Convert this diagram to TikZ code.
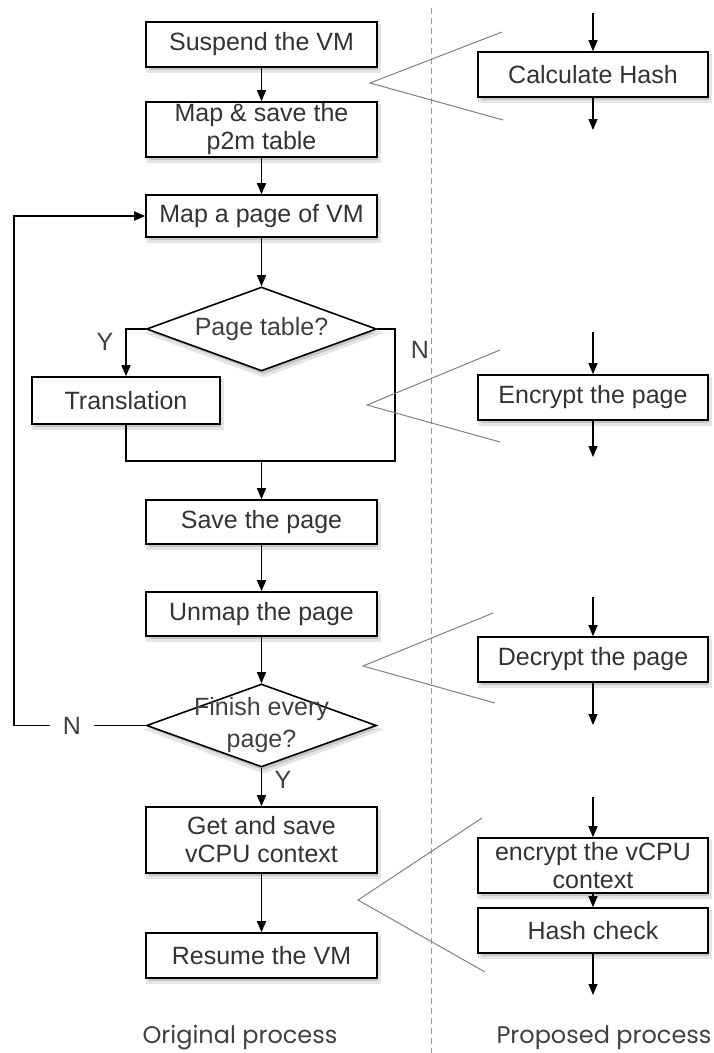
\documentclass[tikz,border=0pt]{standalone}
\usepackage{fontspec}
\setmainfont{Liberation Sans}
\newfontfamily\captionfont{Poppins}
\usetikzlibrary{arrows.meta}
\usetikzlibrary{shapes.geometric}
\usetikzlibrary{backgrounds}
\tikzset{Step Box/.style = {draw, line width = 1.6pt, fill = white, text = black!80,
    minimum width = 231pt, minimum height = 45pt, inner sep = 1pt, align = center,
    font = \fontsize{25}{28}\selectfont}}
\tikzset{Decision/.style = {draw, diamond, aspect = 2.74, line width = 1.6pt, fill = white,
    minimum width = 230pt, minimum height = 84pt, inner sep = 0pt}}
\tikzset{Box Shadow/.style = {fill = black!22, draw = black!10, line width = 3pt}}
\tikzset{Flow Arrow/.style = {line width = 1.5pt, -{Triangle[length = 11pt, width = 9pt]}}}
\tikzset{Stub Arrow/.style = {line width = 1.1pt, -{Triangle[length = 11pt, width = 9pt]}}}
\tikzset{Wedge Line/.style = {line width = 1pt, gray}}
\tikzset{Flag/.style = {text = black!75, font = \fontsize{25}{28}\selectfont}}

\begin{document}
\begin{tikzpicture}[x = 1pt, y = -1pt]
  \useasboundingbox (0, 0) rectangle (713, 1053);

  \draw[gray!80, line width = 1pt, dash pattern = on 6pt off 4pt] (431, 8) -- (431, 1053);

  \node[Step Box] (suspend) at (261.5, 44.5) {Suspend the VM};
  \node[Step Box, minimum height = 55pt] (mapsave) at (261.5, 129.5) {Map \& save the\\p2m table};
  \node[Step Box, minimum height = 42pt] (mappage) at (261.5, 216) {Map a page of VM};
  \node[Decision, label = {[Flag]center:Page table?}]
    (pagetbl) at (261.5, 329) {};
  \node[Step Box, minimum width = 188pt, minimum height = 47pt] (trans) at (126, 400.5) {Translation};
  \node[Step Box, minimum height = 44pt] (savepg) at (261.5, 522) {Save the page};
  \node[Step Box, minimum height = 44pt] (unmap) at (261.5, 614) {Unmap the page};
  \node[Decision, minimum height = 83pt,
    label = {[Flag, align = center, font = \fontsize{25}{32}\selectfont]center:Finish every\\page?}]
    (finish) at (261.5, 725.5) {};
  \node[Step Box, minimum height = 66pt] (getsave) at (261.5, 840) {Get and save\\vCPU context};
  \node[Step Box] (resume) at (261.5, 955.5) {Resume the VM};

  \node[Step Box, minimum width = 230pt] (hash) at (593, 74.5) {Calculate Hash};
  \node[Step Box, minimum width = 230pt] (encpg) at (593, 397.5) {Encrypt the page};
  \node[Step Box, minimum width = 230pt] (decpg) at (593, 659.5) {Decrypt the page};
  \node[Step Box, minimum width = 230pt, minimum height = 55pt] (encvcpu) at (593, 865.5)
    {encrypt the vCPU\\context};
  \node[Step Box, minimum width = 230pt] (hashchk) at (593, 930.5) {Hash check};

  \begin{scope}[on background layer]
    \foreach \n in {suspend, mapsave, mappage, trans, savepg, unmap, getsave, resume,
      hash, encpg, decpg, encvcpu, hashchk}
      \filldraw[Box Shadow] ([shift = {(2, 4)}]\n.south west) rectangle ([shift = {(2, 4)}]\n.north east);
    \foreach \n in {pagetbl, finish}
      \filldraw[Box Shadow] ([shift = {(2, 4)}]\n.north) -- ([shift = {(2, 4)}]\n.east) --
      ([shift = {(2, 4)}]\n.south) -- ([shift = {(2, 4)}]\n.west) -- cycle;
  \end{scope}

  \coordinate (mergeR) at (395, 461);
  \coordinate (merge) at (261.5, 461);
  \coordinate (loop) at (14, 725.5);

  \draw[Flow Arrow] (suspend) -- (mapsave);
  \draw[Flow Arrow] (mapsave) -- (mappage);
  \draw[Flow Arrow] (mappage) -- (pagetbl.north);
  \draw[Flow Arrow] (pagetbl.west) -| (trans.north);
  \draw[line width = 1.5pt] (trans.south) |- (mergeR) |- (pagetbl.east);
  \draw[Flow Arrow] (merge) -- (savepg);
  \draw[Flow Arrow] (savepg) -- (unmap);
  \draw[Flow Arrow] (unmap) -- (finish.north);
  \draw[Flow Arrow] (finish.west) -- node[Flag, pos = .56, fill = white, inner xsep = 13pt] (nofin) {N}
    (loop) |- (mappage.west);
  \draw[Flow Arrow] (finish.south) -- (getsave);
  \draw[Flow Arrow] (getsave) -- (resume);

  \node[Flag] (yespt) at (105, 342) {Y};
  \node[Flag] (nopt) at (420, 350) {N};
  \node[Flag] (yesfin) at (283, 780) {Y};

  \coordinate (hashIn) at (593, 13);
  \coordinate (hashOut) at (593, 130);
  \coordinate (encIn) at (593, 332);
  \coordinate (encOut) at (593, 457);
  \coordinate (decIn) at (593, 597);
  \coordinate (decOut) at (593, 725);
  \coordinate (cpuIn) at (593, 797);
  \coordinate (chkOut) at (593, 995);

  \draw[Stub Arrow] (hashIn) -- (hash);
  \draw[Stub Arrow] (hash) -- (hashOut);
  \draw[Stub Arrow] (encIn) -- (encpg);
  \draw[Stub Arrow] (encpg) -- (encOut);
  \draw[Stub Arrow] (decIn) -- (decpg);
  \draw[Stub Arrow] (decpg) -- (decOut);
  \draw[Stub Arrow] (cpuIn) -- (encvcpu);
  \draw[Stub Arrow] (encvcpu) -- (hashchk);
  \draw[Stub Arrow] (hashchk) -- (chkOut);

  \draw[Wedge Line] (502, 32) -- (370, 83) -- (503, 120);
  \draw[Wedge Line] (500, 350) -- (367, 405) -- (500, 442);
  \draw[Wedge Line] (493, 613) -- (363, 666) -- (495, 703);
  \draw[Wedge Line] (482, 818) -- (358, 900) -- (485, 972);

  \node[text = black!75, font = \captionfont\fontsize{24}{26}\selectfont] (orig) at (240, 1038) {Original process};
  \node[text = black!75, font = \captionfont\fontsize{24}{26}\selectfont] (prop) at (604, 1038) {Proposed process};
\end{tikzpicture}
\end{document}
